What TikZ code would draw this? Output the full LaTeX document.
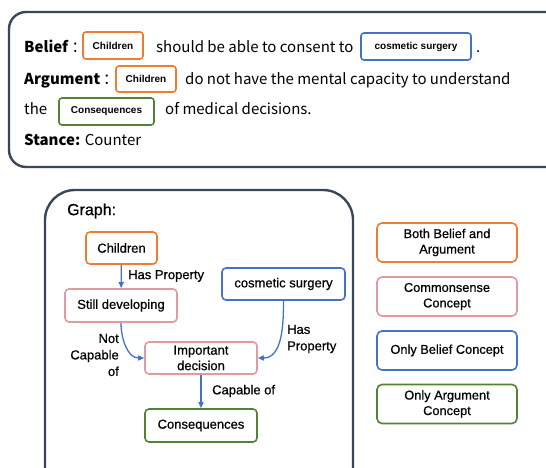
\documentclass[tikz,border=0pt]{standalone}
\usepackage{fontspec}
\setmainfont{Liberation Sans}
\newfontfamily\gfont[FakeBold=0.6]{Liberation Sans}
\newfontfamily\topfont{Noto Sans CJK SC}
\usetikzlibrary{arrows.meta}
\definecolor{cOrange}{HTML}{ED7D31}
\definecolor{cBlue}{HTML}{4472C4}
\definecolor{cGreen}{HTML}{548235}
\definecolor{cPink}{HTML}{E39A9E}
\definecolor{cFrame}{HTML}{3B4558}
\tikzset{
  frame/.style={draw=cFrame, line width=2.4pt},
  tagbox/.style={draw=#1, line width=1.6pt, rounded corners=3pt, inner sep=0pt, font=\fontsize{10}{11}\selectfont\bfseries},
  gnode/.style={draw=#1, line width=1.6pt, rounded corners=4pt, inner sep=0pt, align=center, font=\gfont\fontsize{13}{15.5}\selectfont},
  lnode/.style={draw=#1, line width=1.6pt, rounded corners=5pt, inner sep=0pt, align=center, minimum width=140pt, minimum height=39pt, font=\gfont\fontsize{12.8}{15.5}\selectfont},
  toptext/.style={anchor=base west, inner sep=0pt, font=\topfont\fontsize{15}{18}\selectfont},
  elabel/.style={inner sep=0pt, font=\gfont\fontsize{13}{16.5}\selectfont},
  arr/.style={draw=cBlue, line width=1.3pt, -{Triangle[length=6pt,width=5pt]}}
}
\begin{document}
\begin{tikzpicture}[x=1pt,y=-1pt]
\useasboundingbox (0,0) rectangle (546,468);
\clip (0,0) rectangle (546,468);
% top frame
\draw[frame, rounded corners=17pt] (9,12) rectangle (570,167);
\node[toptext] (t1) at (24,53) {\textbf{Belief}\hspace{3pt}：};
\node[tagbox=cOrange, minimum width=60pt, minimum height=27pt] (b1) at (113,45.5) {Children};
\node[toptext] (t2) at (156,53) {should be able to consent to};
\node[tagbox=cBlue, minimum width=110pt, minimum height=27pt] (b2) at (416,46.5) {cosmetic surgery};
\node[toptext] (t3) at (476,53) {.};
\node[toptext] (t4) at (24,85) {\textbf{Argument}\hspace{3pt}：};
\node[tagbox=cOrange, minimum width=60pt, minimum height=26pt] (b3) at (146,79) {Children};
\node[toptext] (t5) at (185,85) {do not have the mental capacity to understand};
\node[toptext] (t6) at (24,115) {the};
\node[tagbox=cGreen, minimum width=95pt, minimum height=27pt] (b4) at (106.5,111.5) {Consequences};
\node[toptext] (t7) at (165,115) {of medical decisions.};
\node[toptext] (t8) at (24,146) {\textbf{Stance:} Counter};
% graph frame
\draw[frame, rounded corners=30pt] (45,190) rectangle (353,520);
\node[anchor=west, inner sep=0pt, font=\gfont\fontsize{16}{18}\selectfont] (gt) at (67,211) {Graph:};
\node[gnode=cOrange, minimum width=71pt, minimum height=32pt] (ch) at (121.5,248) {Children};
\node[gnode=cPink, minimum width=112pt, minimum height=33pt] (sd) at (121,305.5) {Still developing};
\node[gnode=cBlue, minimum width=123pt, minimum height=32pt] (cs) at (283.5,284) {cosmetic surgery};
\node[gnode=cPink, minimum width=112pt, minimum height=32pt] (id) at (201,358) {Important\\decision};
\node[gnode=cGreen, minimum width=112pt, minimum height=33pt] (co) at (201,425.5) {Consequences};
\draw[arr] (ch) -- (sd);
\draw[arr] (sd.south) to[out=-90,in=180] (id.west);
\draw[arr] (cs.south) to[out=-90,in=0] (id.east);
\draw[arr] (id) -- (co);
\node[elabel, anchor=west] (l1) at (128,276) {Has Property};
\node[elabel, anchor=east, align=right] (l2) at (119,355) {Not\\Capable\\of};
\node[elabel, anchor=west, align=left] (l3) at (287,339) {Has\\Property};
\node[elabel, anchor=west] (l4) at (212,391) {Capable of};
% legend
\node[lnode=cOrange] (g1) at (447,242.5) {Both Belief and\\Argument};
\node[lnode=cPink] (g2) at (447,296.5) {Commonsense\\Concept};
\node[lnode=cBlue] (g3) at (447,350.5) {Only Belief Concept};
\node[lnode=cGreen] (g4) at (447,404) {Only Argument\\Concept};
\end{tikzpicture}
\end{document}
